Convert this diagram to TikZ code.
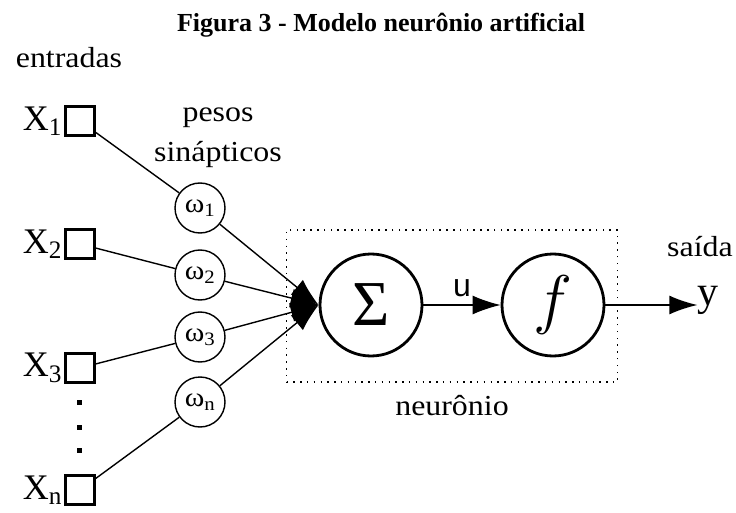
\RequirePackage{fix-cm}
\documentclass[tikz,border=0pt]{standalone}
\usepackage{fontspec}
\setmainfont{Liberation Serif}
\newfontfamily\dfont[FakeStretch=1.1]{Liberation Serif}
\newfontfamily\ufont{Liberation Sans}
\usetikzlibrary{arrows.meta,positioning}

\begin{document}
\begin{tikzpicture}[
      x=1pt,y=-1pt,
      inbox/.style={draw,line width=2.6pt,minimum size=29pt,inner sep=0pt},
      xlabel/.style={font=\fontsize{36}{38}\selectfont,inner sep=1pt},
      wnode/.style={draw,circle,line width=1.4pt,minimum size=50pt,
        inner sep=0pt,font=\dfont\fontsize{27}{28}\selectfont},
      bignode/.style={draw,circle,line width=2.8pt,minimum size=102pt,
        inner sep=0pt},
      vdot/.style={fill,minimum size=5pt,inner sep=0pt},
      txt/.style={font=\dfont\fontsize{29}{33}\selectfont,inner sep=0pt},
      neurbox/.style={line width=1.5pt,dash pattern=on 1.5pt off 5.3pt,
        minimum width=331pt,minimum height=152pt,inner sep=0pt},
      link/.style={line width=1.4pt},
      arr/.style={-{Latex[length=28pt,width=19pt]},line width=1.4pt}
    ]
      \useasboundingbox (0,0) rectangle (736,513);

      \node[font=\bfseries\fontsize{26}{28}\selectfont] (title) at (381,25)
        {Figura 3 - Modelo neurônio artificial};
      \node[txt] (entr) at (69,58) {entradas};

      % entradas
      \node[inbox] (x1) at (80,121) {};
      \node[inbox] (x2) at (80,244) {};
      \node[inbox] (x3) at (80,368) {};
      \node[inbox] (xn) at (80,490) {};
      \node[xlabel,left=1pt of x1] (lx1) {X\textsubscript{1}};
      \node[xlabel,left=1pt of x2] (lx2) {X\textsubscript{2}};
      \node[xlabel,left=1pt of x3] (lx3) {X\textsubscript{3}};
      \node[xlabel,left=1pt of xn] (lxn) {X\textsubscript{n}};
      \node[vdot] (d1) at (79,402) {};
      \node[vdot] (d2) at (79,427) {};
      \node[vdot] (d3) at (79,450) {};

      % pesos
      \node[txt,align=center] (pesos) at (218,138)
        {pesos\\[7pt]sinápticos};
      \node[wnode] (w1) at (200,208) {ω\textsubscript{1}};
      \node[wnode] (w2) at (200,275) {ω\textsubscript{2}};
      \node[wnode] (w3) at (200,337) {ω\textsubscript{3}};
      \node[wnode] (wn) at (200,402) {ω\textsubscript{n}};

      % neuronio
      \node[neurbox,draw] (nbox) at (452,306) {};
      \node[txt,below=12pt of nbox] (neur) {neurônio};
      \node[bignode,font=\fontsize{64}{66}\selectfont] (sig) at (371,305)
        {Σ};
      \node[bignode,font=\fontsize{66}{68}\selectfont] (f) at (553,305)
        {$f$};
      \node[txt] (said) at (700,247) {saída};
      \node[font=\fontsize{42}{44}\selectfont,inner sep=0pt] (y) at (708,300) {y};

      \draw[link](x1)--(w1);
      \draw[link](x2)--(w2);
      \draw[link](x3)--(w3);
      \draw[link](xn)--(wn);
      \draw[arr](w1)--(sig.west);
      \draw[arr](w2)--(sig.west);
      \draw[arr](w3)--(sig.west);
      \draw[arr](wn)--(sig.west);
      \draw[arr](sig)--node[above=4pt,font=\ufont\fontsize{32}{34}\selectfont]
        (u){u}(f);
      \draw[arr](f)--(y.west|-f);
    \end{tikzpicture}
\end{document}
